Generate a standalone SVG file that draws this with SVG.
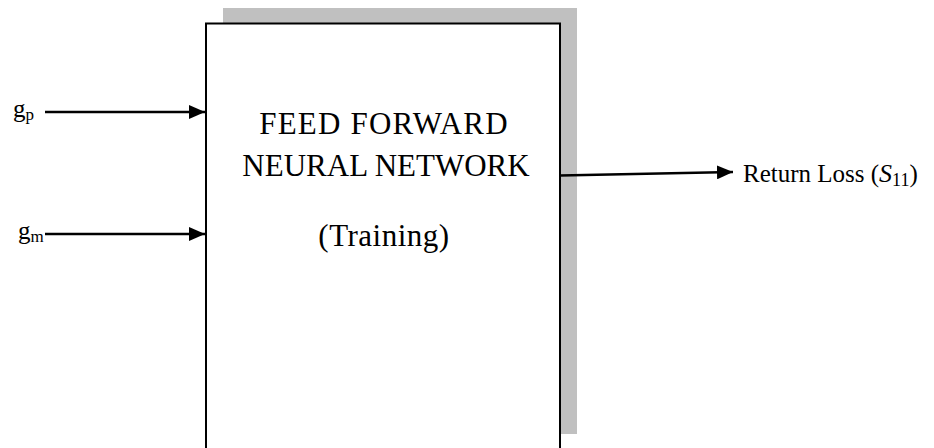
<svg xmlns="http://www.w3.org/2000/svg" width="934" height="448" viewBox="0 0 934 448">
<style>
.t{font-family:"Liberation Serif","Times New Roman",serif;fill:#000}
.big{font-size:31px}
.lbl{font-size:25px}
.c{stroke:#000;stroke-width:2.5;fill:none}
</style>
<defs>
<marker id="ah" markerWidth="16" markerHeight="14" refX="16" refY="7" orient="auto" markerUnits="userSpaceOnUse">
<path d="M0,0 L16,7 L0,14 Z" fill="#000"/>
</marker>
</defs>
<rect width="934" height="448" fill="#fff"/>
<g id="nn">
<rect x="223" y="8" width="354" height="426" fill="#c0c0c0"/>
<rect x="206" y="23.5" width="354" height="440" fill="#fff" stroke="#000" stroke-width="2"/>
<text class="t big" x="384" y="134" text-anchor="middle" letter-spacing="1.2">FEED FORWARD</text>
<text class="t big" x="386" y="176" text-anchor="middle">NEURAL NETWORK</text>
<text class="t big" x="384" y="246" text-anchor="middle" letter-spacing="0.5">(Training)</text>
</g>
<g id="gp">
<text class="t lbl" x="13" y="117">g<tspan font-size="17" dy="3">p</tspan></text>
</g>
<g id="gm">
<text class="t lbl" x="18" y="239">g<tspan font-size="17" dy="3">m</tspan></text>
</g>
<g id="out">
<text class="t lbl" x="743" y="182">Return Loss (<tspan font-style="italic" font-size="26">S</tspan><tspan font-size="18" dy="4">11</tspan><tspan dy="-4">)</tspan></text>
</g>
<g id="connectors">
<line class="c" x1="45" y1="112" x2="205" y2="112" marker-end="url(#ah)"/>
<line class="c" x1="45" y1="234" x2="205" y2="234" marker-end="url(#ah)"/>
<line class="c" x1="560" y1="175.5" x2="733" y2="172" marker-end="url(#ah)"/>
</g>
</svg>
